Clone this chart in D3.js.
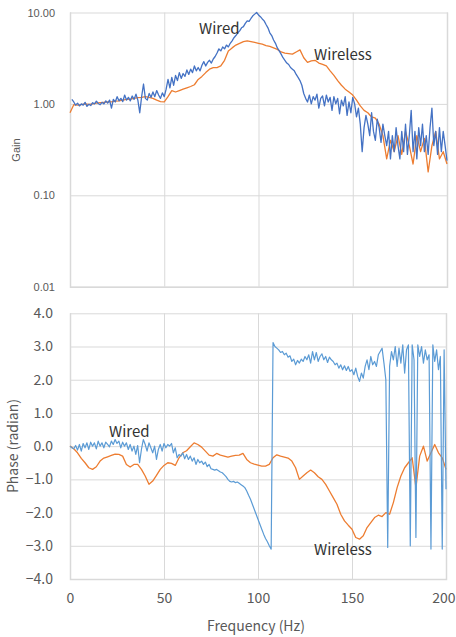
<!DOCTYPE html>
<html><head><meta charset="utf-8">
<script src="https://cdn.jsdelivr.net/npm/d3@7"></script>
<style>
body{margin:0;background:#fff;}
svg{display:block;}
</style></head>
<body><svg id="c" width="456" height="637"></svg>
<script>
// ---------- DATA ----------
const freqTicks = [0, 50, 100, 150, 200];
const gainTicks = [0.01, 0.1, 1, 10];
const phaseTicks = [-4, -3, -2, -1, 0, 1, 2, 3, 4];

// Wired gain, 1 Hz steps from 1 Hz
const wiredGainFreq = d3.range(1, 201);
const wiredGain = [1.12,1.05,0.97,1.02,0.95,1.0,0.97,1.04,0.94,0.99,
0.96,1.03,1.0,1.07,1.01,0.98,1.04,1.0,1.08,1.02,
1.1,0.9,1.12,1.05,1.2,1.08,1.15,1.06,1.25,1.1,
1.18,1.08,1.22,1.12,1.28,1.1,0.8,1.2,1.65,1.15,
1.1,1.3,1.18,1.35,1.2,1.4,1.25,1.15,1.32,1.2,
1.45,1.85,1.5,1.95,1.6,2.05,1.8,2.2,1.9,2.15,
2.0,2.35,2.1,2.4,2.2,2.6,2.3,2.5,2.3,2.65,
2.9,2.6,2.85,3.0,2.8,3.1,3.3,3.6,4.0,3.8,
4.2,4.0,4.4,4.2,4.6,4.9,5.3,5.6,6.0,6.3,
6.8,7.0,7.6,8.1,8.0,8.6,9.2,9.6,10.0,9.4,
9.0,8.5,8.1,7.4,6.8,6.0,5.6,5.0,4.6,4.1,
3.8,3.5,3.2,3.0,2.8,2.7,2.5,2.4,2.3,2.1,
1.95,1.8,1.6,1.3,1.15,1.05,1.25,1.0,1.2,1.1,
1.28,0.9,1.15,1.22,0.95,1.25,1.05,1.18,0.85,1.2,
1.0,1.15,0.78,1.1,0.95,1.2,0.75,1.05,0.8,1.18,
1.0,0.72,0.9,0.6,0.3,0.55,0.75,0.6,0.45,0.8,
0.5,0.4,0.68,0.55,0.38,0.6,0.45,0.35,0.5,0.25,
0.45,0.3,0.55,0.35,0.25,0.5,0.3,0.6,0.28,0.45,
0.85,0.3,0.5,0.25,0.55,0.35,0.6,0.3,0.45,0.28,
0.55,0.9,0.35,0.5,0.28,0.55,0.3,0.5,0.35,0.24];

// Wireless gain, 2 Hz steps from 0 Hz
const wirelessGainFreq = d3.range(0, 201, 2);
const wirelessGain = [0.80,0.98,0.97,0.98,1.0,0.99,1.0,1.02,1.03,1.04,
1.05,1.05,1.07,1.08,1.1,1.12,1.13,1.15,1.17,1.18,
1.2,1.18,1.15,1.1,1.06,1.05,1.2,1.4,1.35,1.4,
1.45,1.5,1.55,1.62,1.85,2.0,2.2,2.4,2.5,2.5,
2.6,3.0,3.8,4.1,4.4,4.6,4.8,4.9,4.8,4.7,
4.6,4.5,4.35,4.25,4.1,3.95,3.7,3.6,3.55,3.5,
3.7,3.9,3.2,2.85,2.95,3.0,2.8,2.7,2.6,2.3,
2.05,1.8,1.6,1.45,1.35,1.25,1.1,0.95,0.85,0.8,
0.72,0.7,0.6,0.45,0.25,0.4,0.3,0.45,0.28,0.5,
0.35,0.22,0.45,0.3,0.42,0.18,0.35,0.5,0.25,0.3,
0.22];

// Wired phase (radian), 1 Hz steps from 0 Hz
const wiredPhaseFreq = d3.range(0, 201);
const wiredPhase = [0.0,-0.05,-0.08,0.02,-0.12,0.05,-0.15,0.08,-0.05,0.1,
-0.1,0.12,0.0,0.1,-0.08,0.15,0.0,0.1,-0.05,0.12,
0.05,-0.02,0.15,0.05,0.2,0.08,0.15,-0.05,0.12,0.0,
0.1,-0.1,0.05,-0.15,0.0,-0.25,0.02,-0.5,-0.1,0.2,
0.05,-0.15,0.1,-0.05,-0.2,0.0,-0.4,-0.1,0.05,-0.15,
0.08,-0.05,0.05,0.0,0.08,-0.2,-0.05,-0.35,-0.25,-0.3,
-0.2,-0.38,-0.25,-0.4,-0.3,-0.45,-0.35,-0.55,-0.4,-0.5,
-0.45,-0.55,-0.48,-0.62,-0.55,-0.68,-0.7,-0.72,-0.7,-0.74,
-0.78,-0.8,-0.86,-0.92,-1.0,-1.06,-1.08,-1.06,-1.1,-1.08,
-1.12,-1.16,-1.2,-1.25,-1.35,-1.48,-1.6,-1.75,-1.9,-2.05,
-2.2,-2.35,-2.5,-2.65,-2.78,-2.88,-3.0,-3.1,3.12,3.0,
2.95,2.9,2.82,2.85,2.75,2.8,2.68,2.72,2.55,2.62,
2.45,2.58,2.5,2.62,2.55,2.7,2.6,2.75,2.5,2.85,
2.6,2.82,2.55,2.7,2.78,2.6,2.7,2.52,2.68,2.6,
2.55,2.45,2.5,2.35,2.45,2.3,2.42,2.28,2.4,2.25,
2.3,2.15,2.35,2.1,1.95,2.2,2.05,2.4,2.6,2.3,
2.7,2.45,2.55,2.4,2.75,2.85,2.95,2.5,2.0,-3.05,
2.4,2.85,2.6,3.0,2.4,2.95,2.5,3.05,2.2,2.9,
3.05,-3.0,3.05,2.6,-2.75,3.05,2.7,3.0,2.5,2.9,
2.6,2.75,-3.1,3.05,2.55,2.9,2.3,2.7,-3.1,2.9,
-1.3];

// Wireless phase (radian), 2 Hz steps from 0 Hz
const wirelessPhaseFreq = d3.range(0, 201, 2);
const wirelessPhase = [0.0,-0.08,-0.2,-0.37,-0.5,-0.65,-0.7,-0.62,-0.45,-0.36,
-0.32,-0.28,-0.24,-0.25,-0.3,-0.55,-0.63,-0.55,-0.55,-0.7,
-0.9,-1.15,-1.05,-0.88,-0.7,-0.58,-0.5,-0.52,-0.58,-0.35,
-0.2,-0.14,-0.02,0.1,0.05,-0.03,-0.15,-0.27,-0.3,-0.22,
-0.27,-0.3,-0.33,-0.3,-0.28,-0.27,-0.22,-0.4,-0.5,-0.54,
-0.57,-0.6,-0.6,-0.55,-0.35,-0.26,-0.3,-0.33,-0.36,-0.45,
-0.65,-1.0,-0.9,-0.8,-0.72,-0.8,-0.92,-1.0,-1.15,-1.35,
-1.55,-1.75,-2.05,-2.25,-2.38,-2.5,-2.75,-2.8,-2.7,-2.45,
-2.3,-2.15,-2.08,-2.12,-2.0,-2.05,-1.7,-1.25,-0.9,-0.65,
-0.5,-0.35,-1.25,-0.3,0.0,-0.45,-0.2,0.05,-0.2,-0.35,
-0.7];

// ---------- DRAW ----------
const svg = d3.select("#c");
const gridCol = "#d9d9d9", txtCol = "#595959";
const blueTop = "#4472C4", blueBot = "#5B9BD5", orange = "#ED7D31";
const jp = "'Noto Sans CJK JP','Noto Sans',sans-serif";

// ---- Top (gain) chart ----
const xTop = d3.scaleLinear().domain([0, 200]).range([70, 447]);
const yTop = d3.scaleLog().domain([0.01, 10]).range([286.7, 12.5]);

svg.append("g").attr("transform", "translate(70,0)")
  .call(d3.axisLeft(yTop).tickValues(gainTicks).tickSize(-(447 - 70)).tickFormat(d3.format(".2f")))
  .call(g => g.select(".domain").remove())
  .call(g => g.selectAll("line").attr("stroke", gridCol))
  .call(g => g.selectAll("text").attr("x", -15).attr("fill", txtCol)
    .style("font-family", "'Liberation Sans',Arial,sans-serif").style("font-size", "11px"));

svg.append("g").attr("transform", "translate(0,286.7)")
  .call(d3.axisBottom(xTop).tickValues(freqTicks).tickSize(-(286.7 - 12.5)).tickFormat(""))
  .call(g => g.select(".domain").attr("stroke", gridCol).attr("stroke-width", 1.5))
  .call(g => g.selectAll("line").attr("stroke", gridCol));

svg.append("text").attr("transform", "translate(20,150) rotate(-90)")
  .attr("text-anchor", "middle").attr("fill", txtCol)
  .style("font-family", "'Liberation Sans',Arial,sans-serif").style("font-size", "11px").text("Gain");

const lineTopW = d3.line().x((d, i) => xTop(wiredGainFreq[i])).y(d => yTop(d));
const lineTopWl = d3.line().x((d, i) => xTop(wirelessGainFreq[i])).y(d => yTop(d));
svg.append("path").datum(wirelessGain).attr("d", lineTopWl)
  .attr("fill", "none").attr("stroke", orange).attr("stroke-width", 1.3).attr("stroke-linejoin", "round");
svg.append("path").datum(wiredGain).attr("d", lineTopW)
  .attr("fill", "none").attr("stroke", blueTop).attr("stroke-width", 1.3).attr("stroke-linejoin", "round");

svg.append("text").attr("x", 199).attr("y", 34).attr("fill", "#333")
  .style("font-family", jp).style("font-size", "15px").text("Wired");
svg.append("text").attr("x", 314).attr("y", 60).attr("fill", "#333")
  .style("font-family", jp).style("font-size", "15px").text("Wireless");

// ---- Bottom (phase) chart ----
const xBot = d3.scaleLinear().domain([0, 200]).range([70, 446]);
const yBot = d3.scaleLinear().domain([-4, 4]).range([579, 313.3]);

svg.append("g").attr("transform", "translate(70,0)")
  .call(d3.axisLeft(yBot).tickValues(phaseTicks).tickSize(-(446 - 70)).tickFormat(d3.format(".1f")))
  .call(g => g.select(".domain").remove())
  .call(g => g.selectAll("line").attr("stroke", gridCol))
  .call(g => g.selectAll("text").attr("x", -17).attr("fill", txtCol)
    .style("font-family", jp).style("font-size", "14px"));

svg.append("g").attr("transform", "translate(0,579)")
  .call(d3.axisBottom(xBot).tickValues(freqTicks).tickSize(-(579 - 313.3)).tickFormat(d3.format("d")))
  .call(g => g.select(".domain").attr("stroke", gridCol).attr("stroke-width", 1.5))
  .call(g => g.selectAll("line").attr("stroke", gridCol))
  .call(g => g.selectAll("text").attr("y", 14).attr("fill", txtCol)
    .style("font-family", jp).style("font-size", "14px"))
  .call(g => g.selectAll(".tick").filter(d => d === 200).select("text")
    .attr("text-anchor", "end").attr("x", 9));

svg.append("text").attr("x", 256).attr("y", 631).attr("text-anchor", "middle").attr("fill", txtCol)
  .style("font-family", jp).style("font-size", "14px").text("Frequency (Hz)");
svg.append("text").attr("transform", "translate(18,446) rotate(-90)")
  .attr("text-anchor", "middle").attr("fill", txtCol)
  .style("font-family", jp).style("font-size", "14px").text("Phase (radian)");

const lineBotW = d3.line().x((d, i) => xBot(wiredPhaseFreq[i])).y(d => yBot(d));
const lineBotWl = d3.line().x((d, i) => xBot(wirelessPhaseFreq[i])).y(d => yBot(d));
svg.append("path").datum(wirelessPhase).attr("d", lineBotWl)
  .attr("fill", "none").attr("stroke", orange).attr("stroke-width", 1.3).attr("stroke-linejoin", "round");
svg.append("path").datum(wiredPhase).attr("d", lineBotW)
  .attr("fill", "none").attr("stroke", blueBot).attr("stroke-width", 1.2).attr("stroke-linejoin", "round");

svg.append("text").attr("x", 109).attr("y", 437).attr("fill", "#333")
  .style("font-family", jp).style("font-size", "15px").text("Wired");
svg.append("text").attr("x", 314).attr("y", 555).attr("fill", "#333")
  .style("font-family", jp).style("font-size", "15px").text("Wireless");
</script></body></html>
